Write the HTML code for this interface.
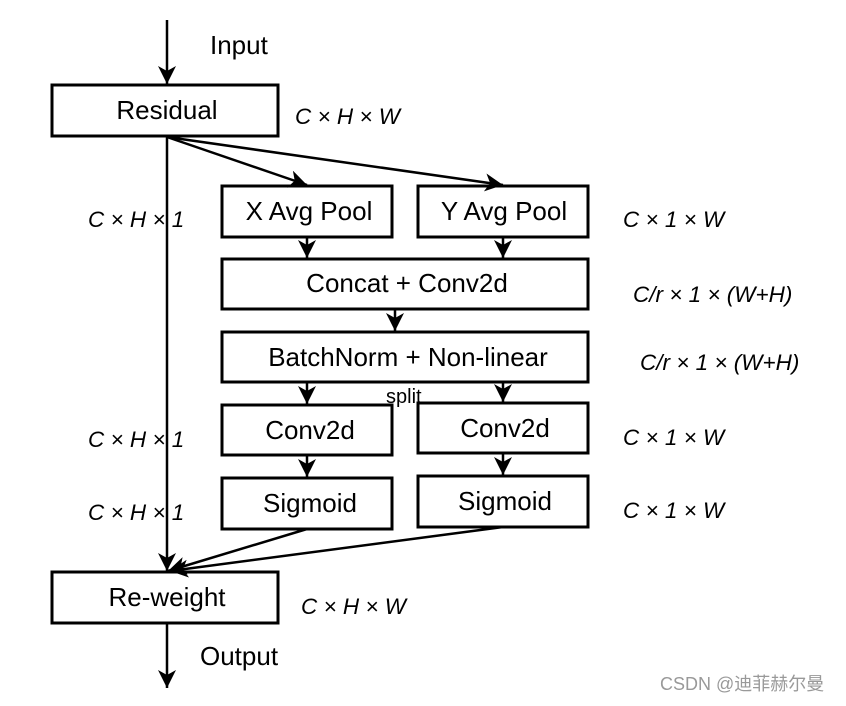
<!DOCTYPE html>
<html><head><meta charset="utf-8"><style>
body{margin:0;background:#fff}
svg text{font-family:"Liberation Sans",Arial,sans-serif;fill:#000}
.b{font-size:26px}
.d{font-size:22.5px}
</style></head><body>
<svg width="846" height="701" viewBox="0 0 846 701" xmlns="http://www.w3.org/2000/svg">
<defs>
<marker id="h" markerWidth="22" markerHeight="22" refX="18" refY="9" orient="auto" markerUnits="userSpaceOnUse"><path d="M0,0 L18,9 L0,18 L5,9 Z" fill="#000"/></marker></defs>
<g stroke="#000" stroke-width="3" fill="none">
<rect x="52" y="85" width="226" height="51"/>
<rect x="222" y="186" width="170" height="51"/>
<rect x="418" y="186" width="170" height="51"/>
<rect x="222" y="259" width="366" height="50"/>
<rect x="222" y="332" width="366" height="50"/>
<rect x="222" y="405" width="170" height="50"/>
<rect x="418" y="403" width="170" height="50"/>
<rect x="222" y="478" width="170" height="51"/>
<rect x="418" y="476" width="170" height="51"/>
<rect x="52" y="572" width="226" height="51"/>
</g>
<g stroke="#000" stroke-width="2.5" fill="none" marker-end="url(#h)">
<line x1="167" y1="20" x2="167" y2="84"/>
<line x1="167" y1="136" x2="167" y2="571"/>
<line x1="167" y1="137" x2="307" y2="185"/>
<line x1="167" y1="137" x2="503" y2="185"/>
<line x1="307" y1="237" x2="307" y2="258"/>
<line x1="503" y1="237" x2="503" y2="258"/>
<line x1="395" y1="309" x2="395" y2="331"/>
<line x1="307" y1="382" x2="307" y2="404"/>
<line x1="503" y1="382" x2="503" y2="402"/>
<line x1="307" y1="455" x2="307" y2="477"/>
<line x1="503" y1="453" x2="503" y2="475"/>
<line x1="307" y1="529" x2="168" y2="571"/>
<line x1="503" y1="527" x2="170" y2="571"/>
<line x1="167" y1="623" x2="167" y2="688"/>
</g>
<g class="b" text-anchor="middle">
<text x="167" y="119">Residual</text>
<text x="309" y="220">X Avg Pool</text>
<text x="504" y="220">Y Avg Pool</text>
<text x="407" y="292">Concat + Conv2d</text>
<text x="408" y="366">BatchNorm + Non-linear</text>
<text x="310" y="439">Conv2d</text>
<text x="505" y="437">Conv2d</text>
<text x="310" y="512">Sigmoid</text>
<text x="505" y="510">Sigmoid</text>
<text x="167" y="606">Re-weight</text>
</g>
<text class="b" x="210" y="54">Input</text>
<text class="b" x="200" y="665">Output</text>
<text x="386" y="403" style="font-size:20px">split</text>
<g class="d" font-style="italic">
<text x="295" y="124">C × H × W</text>
<text x="88" y="227">C × H × 1</text>
<text x="623" y="227">C × 1 × W</text>
<text x="633" y="302">C/r × 1 × (W+H)</text>
<text x="640" y="370">C/r × 1 × (W+H)</text>
<text x="88" y="447">C × H × 1</text>
<text x="623" y="445">C × 1 × W</text>
<text x="88" y="520">C × H × 1</text>
<text x="623" y="518">C × 1 × W</text>
<text x="301" y="614">C × H × W</text>
</g>
<text x="660" y="690" style="font-size:18px;fill:#999;font-family:'Liberation Sans','Noto Sans CJK SC',sans-serif">CSDN @迪菲赫尔曼</text>
</svg>
</body></html>
